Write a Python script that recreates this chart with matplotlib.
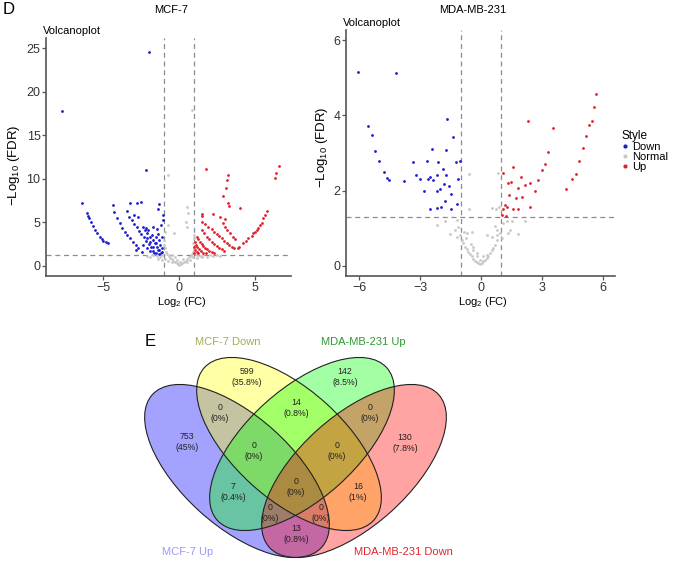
import numpy as np
import matplotlib
matplotlib.use("Agg")
import matplotlib.pyplot as plt
from matplotlib.patches import Ellipse
from matplotlib.lines import Line2D

plt.rcParams['font.family'] = ['Liberation Sans', 'DejaVu Sans']
plt.rcParams['mathtext.fontset'] = 'custom'
plt.rcParams['mathtext.rm'] = 'Liberation Sans'
plt.rcParams['mathtext.default'] = 'rm'

# ---- volcano data: (log2 FC, -log10 FDR) ----
mcf7_down = np.array([
    (-7.68, 17.8), (-1.95, 24.5), (-2.17, 11.0),
    (-6.36, 7.26), (-6.07, 6.04), (-5.99, 5.73), (-5.9, 5.47), (-5.81, 5.08), (-5.68, 4.59),
    (-5.53, 4.13), (-5.37, 3.75), (-5.2, 3.36), (-5.09, 3.13), (-4.98, 2.91), (-4.8, 2.71), (-4.65, 2.6),
    (-4.36, 6.96), (-4.28, 6.15), (-4.06, 5.47), (-3.88, 4.89), (-3.73, 4.4), (-3.55, 3.94),
    (-3.4, 3.56), (-3.22, 3.17), (-3.05, 2.79), (-2.85, 2.41), (-2.68, 2.03), (-2.46, 1.64),
    (-3.22, 7.19), (-3.4, 6.31), (-3.27, 5.66), (-3.11, 5.28), (-2.94, 4.82), (-2.79, 4.43),
    (-2.63, 4.01), (-2.5, 3.63), (-2.32, 3.29), (-2.17, 2.91), (-2.0, 2.52), (-1.86, 2.14),
    (-1.69, 1.76), (-1.51, 1.45),
    (-2.74, 7.26), (-2.52, 7.34), (-2.96, 5.85), (-2.68, 5.58), (-2.39, 4.51), (-2.24, 4.13),
    (-2.08, 3.75), (-1.91, 3.36), (-1.73, 2.98), (-1.58, 2.6), (-1.43, 2.22), (-1.29, 1.83), (-1.21, 1.45),
    (-1.32, 7.07), (-1.36, 6.5), (-1.03, 5.85), (-1.07, 5.28), (-1.21, 4.7), (-1.47, 4.2),
    (-1.36, 3.67), (-1.14, 3.36), (-1.29, 2.98), (-1.51, 2.6), (-1.25, 2.41), (-1.12, 2.03),
    (-1.38, 1.83), (-1.14, 1.64), (-1.32, 1.38), (-1.69, 2.22), (-1.91, 2.79), (-2.13, 3.17),
    (-1.8, 3.56), (-2.02, 4.13), (-2.17, 4.32), (-1.69, 4.51), (-1.54, 3.36), (-2.35, 2.41),
    (-2.13, 2.03), (-1.91, 1.76), (-1.64, 1.53), (-2.83, 1.83),
])
mcf7_up = np.array([
    (1.78, 11.09), (3.25, 10.44), (3.14, 9.86), (3.09, 8.91), (2.92, 8.03), (3.25, 7.19),
    (3.31, 6.88), (4.01, 6.61), (2.26, 5.96), (1.49, 5.73), (6.6, 11.51), (6.38, 10.63), (6.34, 10.05),
    (5.77, 6.35), (5.66, 5.85), (5.55, 5.47), (5.44, 4.97), (5.33, 4.7), (5.22, 4.4), (5.11, 4.13),
    (5.0, 3.94), (4.89, 3.75), (4.78, 3.44), (4.56, 3.17), (4.41, 2.91), (4.23, 2.6), (3.97, 2.22),
    (3.9, 2.03), (1.54, 5.93),
    (1.49, 5.08), (1.71, 4.78), (1.93, 4.51), (2.15, 4.2), (2.3, 3.94), (2.48, 3.67), (2.65, 3.44),
    (2.81, 3.17), (2.96, 2.91), (3.14, 2.68), (3.31, 2.41), (3.46, 2.22), (3.62, 2.03),
    (1.54, 4.13), (1.67, 3.75), (1.82, 3.36), (2.0, 3.06), (2.15, 2.79), (2.3, 2.52), (2.48, 2.29),
    (2.63, 2.1), (2.81, 1.91), (2.96, 1.72),
    (1.16, 3.36), (1.27, 3.06), (1.38, 2.79), (1.49, 2.52), (1.6, 2.29), (1.71, 2.1), (1.86, 1.91),
    (2.0, 1.76), (2.15, 1.64), (2.3, 1.53),
    (1.05, 2.79), (1.12, 2.41), (1.21, 2.14), (1.34, 1.91), (1.45, 1.72), (1.02, 2.22), (1.05, 1.83),
    (1.16, 1.64), (1.02, 1.53), (1.27, 1.45), (1.56, 1.53), (1.78, 1.45),
    (2.87, 4.89), (3.03, 4.51), (3.18, 4.13), (3.36, 3.75), (3.53, 3.36), (3.68, 3.06),
    (2.7, 5.66), (3.03, 5.35),
])
mcf7_normal = np.array([
    (-0.7, 10.4), (0.83, 17.9), (-0.7, 4.7), (-0.33, 3.75), (0.55, 6.8), (0.61, 6.12), (0.5, 4.51),
    (0.44, 5.08), (-0.95, 3.94), (-0.97, 2.98), (0.97, 3.17), (0.96, 3.56), (0.94, 2.6),
    (-0.99, 2.41), (-0.92, 2.03), (-0.86, 1.64), (-0.77, 1.38), (-0.68, 1.15), (-0.59, 0.96),
    (-0.48, 0.76), (-0.37, 0.57), (-0.26, 0.42), (-0.15, 0.31), (-0.04, 0.23), (0.02, 0.15),
    (0.11, 0.19), (0.22, 0.31), (0.33, 0.42), (0.44, 0.61), (0.55, 0.8), (0.66, 0.99), (0.77, 1.15),
    (0.88, 1.38), (0.94, 1.64), (0.98, 1.91),
    (-1.69, 1.26), (-1.47, 1.15), (-1.25, 1.07), (-1.91, 0.99), (-1.36, 0.84), (-1.14, 0.69),
    (-0.92, 0.76), (-0.7, 0.61), (-0.48, 0.5), (-1.14, 1.26), (1.16, 1.26), (1.38, 1.15), (1.6, 1.22),
    (1.82, 1.07), (2.04, 1.25), (2.26, 1.15), (2.48, 1.22), (0.94, 0.99), (0.72, 0.69), (0.5, 0.5),
    (1.16, 0.88), (1.49, 0.99), (-0.48, 1.26), (-0.26, 0.99), (0.29, 0.76), (0.07, 0.5), (-0.15, 0.69),
    (-2.1, 1.15), (2.7, 1.1),
])

mda_down = np.array([
    (-6.04, 5.15), (-4.2, 5.13), (-5.55, 3.73), (-5.39, 3.47), (-5.2, 3.04), (-5.02, 2.78),
    (-4.78, 2.5), (-4.65, 2.34), (-4.52, 2.27), (-3.78, 2.26), (-3.37, 2.76), (-3.2, 2.42),
    (-3.0, 2.3), (-2.79, 2.0), (-2.68, 2.78), (-2.41, 3.1), (-2.59, 2.3), (-2.51, 2.36),
    (-2.35, 2.29), (-2.18, 2.41), (-2.1, 2.76), (-2.18, 2.0), (-2.02, 2.05), (-1.89, 2.58),
    (-1.82, 2.18), (-1.74, 2.41), (-1.69, 3.91), (-1.72, 3.09), (-1.56, 2.12), (-1.46, 1.9),
    (-1.36, 3.42), (-1.23, 2.76), (-1.12, 2.3), (-1.03, 2.78), (-1.2, 1.65), (-2.51, 1.52),
    (-2.18, 1.55), (-1.97, 1.57), (-1.77, 1.72), (-1.49, 1.52),
])
mda_up = np.array([
    (5.66, 4.56), (5.57, 4.22), (5.45, 3.85), (5.32, 3.75), (5.17, 3.44), (5.0, 3.13), (4.84, 2.78),
    (4.66, 2.43), (4.47, 2.3), (4.19, 2.03), (3.56, 3.67), (3.28, 3.03), (3.15, 2.72), (2.99, 2.54),
    (2.82, 2.27), (2.66, 1.99), (2.41, 2.2), (2.3, 3.85), (2.41, 1.57), (2.17, 2.14), (1.95, 2.36),
    (2.0, 1.83), (1.84, 2.08), (1.72, 1.81), (1.56, 2.63), (1.46, 2.23), (1.35, 2.21), (1.4, 1.89),
    (1.1, 2.47), (1.18, 1.61), (1.3, 1.57), (1.56, 1.5), (1.84, 1.5), (1.1, 1.5), (1.02, 1.35),
    (1.23, 1.32),
])
mda_normal = np.array([
    (-0.57, 2.44), (-0.57, 1.5), (0.85, 2.46), (0.53, 1.53), (0.74, 1.5), (0.9, 1.56),
    (-2.18, 1.09), (-1.77, 1.2), (-1.2, 1.22), (-1.12, 1.04), (-1.28, 0.96), (-1.53, 0.85),
    (-1.2, 0.78), (-1.03, 0.82), (-0.84, 0.91), (-0.71, 0.87), (-0.46, 0.91), (-0.95, 0.69),
    (-0.87, 0.6), (-0.79, 0.51), (-0.71, 0.44), (-0.62, 0.38), (-0.54, 0.32), (-0.46, 0.25),
    (-0.38, 0.19), (-0.3, 0.14), (-0.21, 0.1), (-0.13, 0.07), (-0.05, 0.05), (0.03, 0.07),
    (0.11, 0.12), (0.2, 0.16), (0.28, 0.21), (0.36, 0.27), (0.44, 0.34), (0.53, 0.41), (0.61, 0.47),
    (0.69, 0.56), (0.77, 0.69), (0.8, 0.82), (0.77, 0.96), (0.69, 1.06), (0.94, 0.87), (1.1, 1.13),
    (1.26, 1.2), (1.35, 0.87), (1.43, 0.96), (1.84, 0.85), (2.17, 1.2), (1.51, 1.18), (1.02, 0.73),
    (0.28, 0.82), (0.53, 0.78), (-0.38, 0.42), (-0.21, 0.34), (-0.05, 0.16), (0.11, 0.25),
    (0.28, 0.29), (-0.74, 0.73), (-0.51, 0.58), (-0.41, 0.51), (-0.21, 0.25),
])

styles = ['Down', 'Normal', 'Up']
style_colors = ['#1c1cd0', '#c8c8c8', '#e0202a']

# ---- venn data ----
venn_sets = ['MCF-7 Up', 'MCF-7 Down', 'MDA-MB-231 Up', 'MDA-MB-231 Down']
venn_fill = ['blue', 'yellow', '#00ff00', 'red']
venn_text_colors = ['#9a9af2', '#a8a856', '#2f9a34', '#e3262f']
region_keys = ['1000', '0100', '0010', '0001', '1100', '0110', '0011', '1010',
               '0101', '1001', '1110', '0111', '1011', '1101', '1111']
region_counts = [753, 599, 142, 130, 0, 14, 0, 7, 16, 13, 0, 0, 0, 0, 0]

fig = plt.figure(figsize=(6.77, 5.62), dpi=100)
W, H = 677, 562


def fig_rect(l, t, r, b):
    return [l / W, 1 - b / H, (r - l) / W, (b - t) / H]


# background axes in pixel units for the venn and panel letters
vax = fig.add_axes([0, 0, 1, 1], zorder=-1)
vax.set_xlim(0, W)
vax.set_ylim(H, 0)
vax.axis('off')


def volcano(ax, down, normal, up, xlim, ylim, xticks, yticks):
    for pts, c in zip([down, normal, up], style_colors):
        ax.scatter(pts[:, 0], pts[:, 1], s=4, color=c, linewidths=0, zorder=3)
    for v in (-1, 1):
        ax.axvline(v, color='#8c8c8c', ls=(0, (4, 3)), lw=0.9, zorder=2)
    ax.axhline(-np.log10(0.05), color='#8c8c8c', ls=(0, (4, 3)), lw=0.9, zorder=2)
    ax.set_xlim(*xlim)
    ax.set_ylim(*ylim)
    ax.set_xticks(xticks)
    ax.set_yticks(yticks)
    for s in ('top', 'right'):
        ax.spines[s].set_visible(False)
    for s in ('left', 'bottom'):
        ax.spines[s].set_color('#555555')
        ax.spines[s].set_linewidth(1.2)
    ax.tick_params(length=3, width=0.9, color='#555555', labelsize=9, labelcolor='#333333', pad=1)
    ax.set_facecolor('none')


ax1 = fig.add_axes(fig_rect(46, 38, 291, 276))
volcano(ax1, mcf7_down, mcf7_normal, mcf7_up, (-8.75, 7.37), (-1.15, 26.15),
        [-5, 0, 5], [0, 5, 10, 15, 20, 25])
ax2 = fig.add_axes(fig_rect(346, 30, 615, 276))
volcano(ax2, mda_down, mda_normal, mda_up, (-6.65, 6.6), (-0.27, 6.27),
        [-6, -3, 0, 3, 6], [0, 2, 4, 6])

# titles and labels
vax.text(171, 10, 'MCF-7', fontsize=8, ha='center', va='center')
vax.text(473, 10, 'MDA-MB-231', fontsize=8, ha='center', va='center')
vax.text(43, 31, 'Volcanoplot', fontsize=8, ha='left', va='center')
vax.text(343, 23, 'Volcanoplot', fontsize=8, ha='left', va='center')
vax.text(14, 165, '\u2212Log$_{10}$ (FDR)', fontsize=9.5, rotation=90, ha='center', va='center')
vax.text(322, 147, '\u2212Log$_{10}$ (FDR)', fontsize=9.5, rotation=90, ha='center', va='center')
vax.text(182, 302, 'Log$_{2}$ (FC)', fontsize=8, ha='center', va='center')
vax.text(483, 302, 'Log$_{2}$ (FC)', fontsize=8, ha='center', va='center')
vax.text(3, 10, 'D', fontsize=12, ha='left', va='center')
vax.text(145, 342, 'E', fontsize=12, ha='left', va='center')

handles = [Line2D([], [], marker='o', ls='', color=c, markersize=2) for c in style_colors]
leg = ax2.legend(handles, styles, title='Style', loc='upper left',
                 bbox_to_anchor=(622 / W, 1 - 130 / H), bbox_transform=fig.transFigure,
                 frameon=False, fontsize=8, title_fontsize=8.5, handlelength=0.6,
                 handletextpad=0.3, labelspacing=0.0, borderpad=0, borderaxespad=0,
                 alignment='left')

# ---- venn ----
ell_a, ell_b, ell_ang = 114, 55, 42
ell_centers = [(237, 471), (289, 444), (302, 444), (354, 471)]
ell_angles = [ell_ang, ell_ang, -ell_ang, -ell_ang]
for (cx, cy), ang, fc in zip(ell_centers, ell_angles, venn_fill):
    vax.add_patch(Ellipse((cx, cy), 2 * ell_a, 2 * ell_b, angle=ang,
                          facecolor=fc, alpha=0.36, edgecolor='none'))
for (cx, cy), ang in zip(ell_centers, ell_angles):
    vax.add_patch(Ellipse((cx, cy), 2 * ell_a, 2 * ell_b, angle=ang,
                          facecolor='none', edgecolor='#222222', lw=0.8))

region_pos = {
    '1000': (187, 442), '0100': (247, 377), '0010': (345, 377), '0001': (405, 443),
    '1100': (220, 413), '0110': (296, 408), '0011': (370, 413), '1010': (233, 492),
    '0101': (358, 492), '1001': (296, 534), '1110': (254, 451), '0111': (337, 451),
    '1011': (270, 513), '1101': (321, 513), '1111': (296, 487),
}
total = sum(region_counts)
for key, n in zip(region_keys, region_counts):
    pct = round(100 * n / total, 1)
    x, y = region_pos[key]
    vax.text(x, y, f'{n}\n({pct:g}%)', fontsize=6.3, ha='center', va='center',
             color='#222222', linespacing=1.2)

cat_pos = [(188, 552), (228, 342), (363, 342), (403, 552)]
for name, (x, y), c in zip(venn_sets, cat_pos, venn_text_colors):
    vax.text(x, y, name, fontsize=8, color=c, ha='center', va='center')

fig.savefig('out.png', dpi=100)
